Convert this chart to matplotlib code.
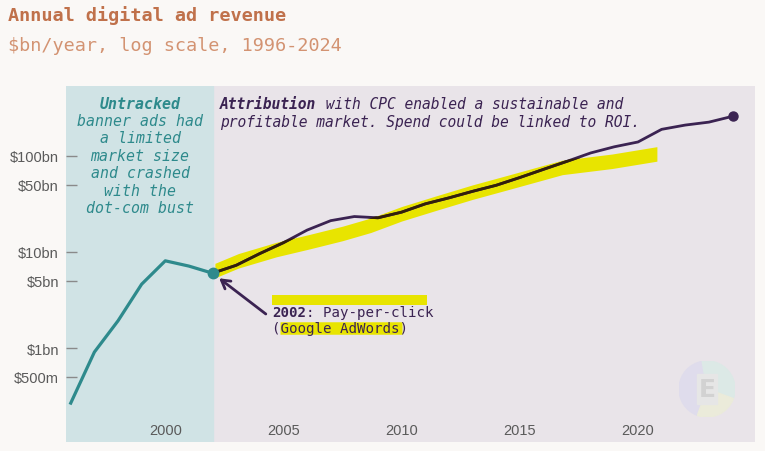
import matplotlib
matplotlib.use('Agg')
import matplotlib.pyplot as plt
from matplotlib.patches import Wedge, Rectangle

# data: annual US digital ad revenue, $bn
early_years = [1996, 1997, 1998, 1999, 2000, 2001, 2002]
early_values = [0.267, 0.907, 1.92, 4.62, 8.09, 7.13, 6.01]

late_years = list(range(2002, 2025))
late_values = [6.01, 7.27, 9.63, 12.5, 16.9, 21.2, 23.4, 22.7, 26.0, 31.7, 36.6,
               42.8, 49.5, 59.6, 72.5, 88.0, 107.5, 124.6, 139.8, 189.3, 209.7,
               225.0, 258.6]

# hand-drawn highlighter stroke under the trend
band_years = [2002.1, 2003.1, 2004.7, 2006.1, 2007.5, 2008.7, 2010.0, 2011.5,
              2013.0, 2014.5, 2016.8, 2018.9, 2020.8]
band_values = [6.4, 8.1, 10.6, 12.8, 15.6, 19.0, 25.0, 32.5, 42.0, 53.0, 76.0,
               88.0, 105.0]

ytick_values = [0.5, 1, 5, 10, 50, 100]
ytick_labels = ['$500m', '$1bn', '$5bn', '$10bn', '$50bn', '$100bn']
xtick_values = [2000, 2005, 2010, 2015, 2020]

untracked_lines = ['banner ads had', 'a limited', 'market size',
                   'and crashed', 'with the', 'dot-com bust']

FIG_BG = '#faf8f6'
PLOT_BG = '#e9e4e9'
SHADE = '#d0e3e5'
TEAL = '#2e8a8c'
PURPLE = '#3b2352'
YELLOW = '#e8e400'
MONO = 'DejaVu Sans Mono'
CHAR_W = 0.602  # advance of one DejaVu Sans Mono glyph, in em


def mono_pair(x, y, bold, rest, size, **kw):
    """bold word followed by regular text, using the fixed glyph width"""
    ax.text(x, y, bold, transform=ax.transAxes, va='baseline', family=MONO,
            weight='bold', size=size, **kw)
    ax.annotate(rest, xy=(x, y), xycoords='axes fraction',
                xytext=(len(bold) * CHAR_W * size, 0), textcoords='offset points',
                va='baseline', family=MONO, size=size, **kw)


fig = plt.figure(figsize=(7.65, 4.52), dpi=100, facecolor=FIG_BG)
ax = fig.add_axes([0.0863, 0.0199, 0.9006, 0.7876])
ax.set_facecolor(PLOT_BG)
ax.set_yscale('log')
ax.set_xlim(1995.8, 2024.95)
ax.set_ylim(0.105, 535)
for s in ax.spines.values():
    s.set_visible(False)

ax.axvspan(1995.8, 2002, color=SHADE, zorder=0)

# highlighter band as a polygon so the line can be darkened where it overlaps
hw = 1.19
band = ax.fill_between(band_years, [v / hw for v in band_values],
                       [v * hw for v in band_values], color=YELLOW, lw=0, zorder=1)

ax.plot(early_years, early_values, color=TEAL, lw=2.3, zorder=3)
ax.plot(late_years, late_values, color=PURPLE, lw=2.0, zorder=3)
dark, = ax.plot(late_years, late_values, color='#33200a', lw=2.0, zorder=4)
dark.set_clip_path(band.get_paths()[0], ax.transData)
ax.plot([late_years[-1]], [late_values[-1]], 'o', color=PURPLE, ms=6.5, zorder=5)
ax.plot([early_years[-1]], [early_values[-1]], 'o', color=TEAL, ms=7.5, zorder=5)

ax.set_yticks(ytick_values)
ax.set_yticklabels(ytick_labels)
ax.minorticks_off()
ax.set_xticks(xtick_values)
ax.tick_params(axis='y', direction='in', length=8, width=1, color='#8a8a8a',
               pad=5, labelsize=10.5, labelcolor='#5a5a5a')
ax.tick_params(axis='x', length=0, pad=-13.5, labelsize=10.5, labelcolor='#5a5a5a')
for lab in ax.get_xticklabels() + ax.get_yticklabels():
    lab.set_family('Liberation Sans')

# left annotation
ax.text(0.1074, 0.938, 'Untracked', transform=ax.transAxes, ha='center',
        va='baseline', family=MONO, style='italic', weight='bold',
        size=10.7, color=TEAL)
for i, line in enumerate(untracked_lines):
    ax.text(0.1074, 0.8904 - i * 0.0489, line, transform=ax.transAxes,
            ha='center', va='baseline', family=MONO, style='italic',
            size=10.7, color=TEAL)

# right annotation
mono_pair(0.2235, 0.938, 'Attribution', ' with CPC enabled a sustainable and',
          10.5, style='italic', color=PURPLE)
ax.text(0.2235, 0.8885, 'profitable market. Spend could be linked to ROI.',
        transform=ax.transAxes, va='baseline', family=MONO, style='italic',
        size=10.5, color=PURPLE)

# 2002 callout
ax.plot([0.299, 0.524], [0.3975, 0.3975], transform=ax.transAxes, color=YELLOW,
        lw=7.2, solid_capstyle='butt', zorder=2)
ax.plot([0.3106, 0.4877], [0.320, 0.320], transform=ax.transAxes, color=YELLOW,
        lw=9, solid_capstyle='butt', zorder=2)
mono_pair(0.299, 0.3548, '2002', ': Pay-per-click', 10.2, color=PURPLE, zorder=6)
ax.text(0.299, 0.308, '(Google AdWords)', transform=ax.transAxes, va='baseline',
        family=MONO, size=10.2, color=PURPLE, zorder=6)
ax.annotate('', xy=(early_years[-1], early_values[-1]), xycoords='data',
            xytext=(0.290, 0.3596), textcoords='axes fraction',
            arrowprops=dict(arrowstyle='->,head_length=0.6,head_width=0.35',
                            color=PURPLE, lw=2, shrinkA=0, shrinkB=6), zorder=6)

# titles
fig.text(0.0105, 0.9646, 'Annual digital ad revenue', family=MONO, weight='bold',
         size=13.3, color='#c0714b', va='center')
fig.text(0.0105, 0.898, '$bn/year, log scale, 1996-2024', family=MONO,
         size=13.3, color='#d39372', va='center')

# faint logo bottom right
lg = fig.add_axes([0.8876, 0.0752, 0.0732, 0.1239])
lg.set_xlim(-1, 1)
lg.set_ylim(-1, 1)
lg.set_aspect('equal')
lg.axis('off')
lg.add_patch(Wedge((0, 0), 1, 100, 250, color='#dfdcec'))
lg.add_patch(Wedge((0, 0), 1, -20, 100, color='#dce9e6'))
lg.add_patch(Wedge((0, 0), 1, 250, 340, color='#ebebda'))
lg.add_patch(Rectangle((-0.34, -0.55), 0.68, 1.1, color='#e6e6e6'))
lg.text(0, 0, 'E', ha='center', va='center', size=18, weight='bold',
        color='#d2d2d2', family='DejaVu Sans')

fig.savefig('out.png', dpi=100, facecolor=FIG_BG)
